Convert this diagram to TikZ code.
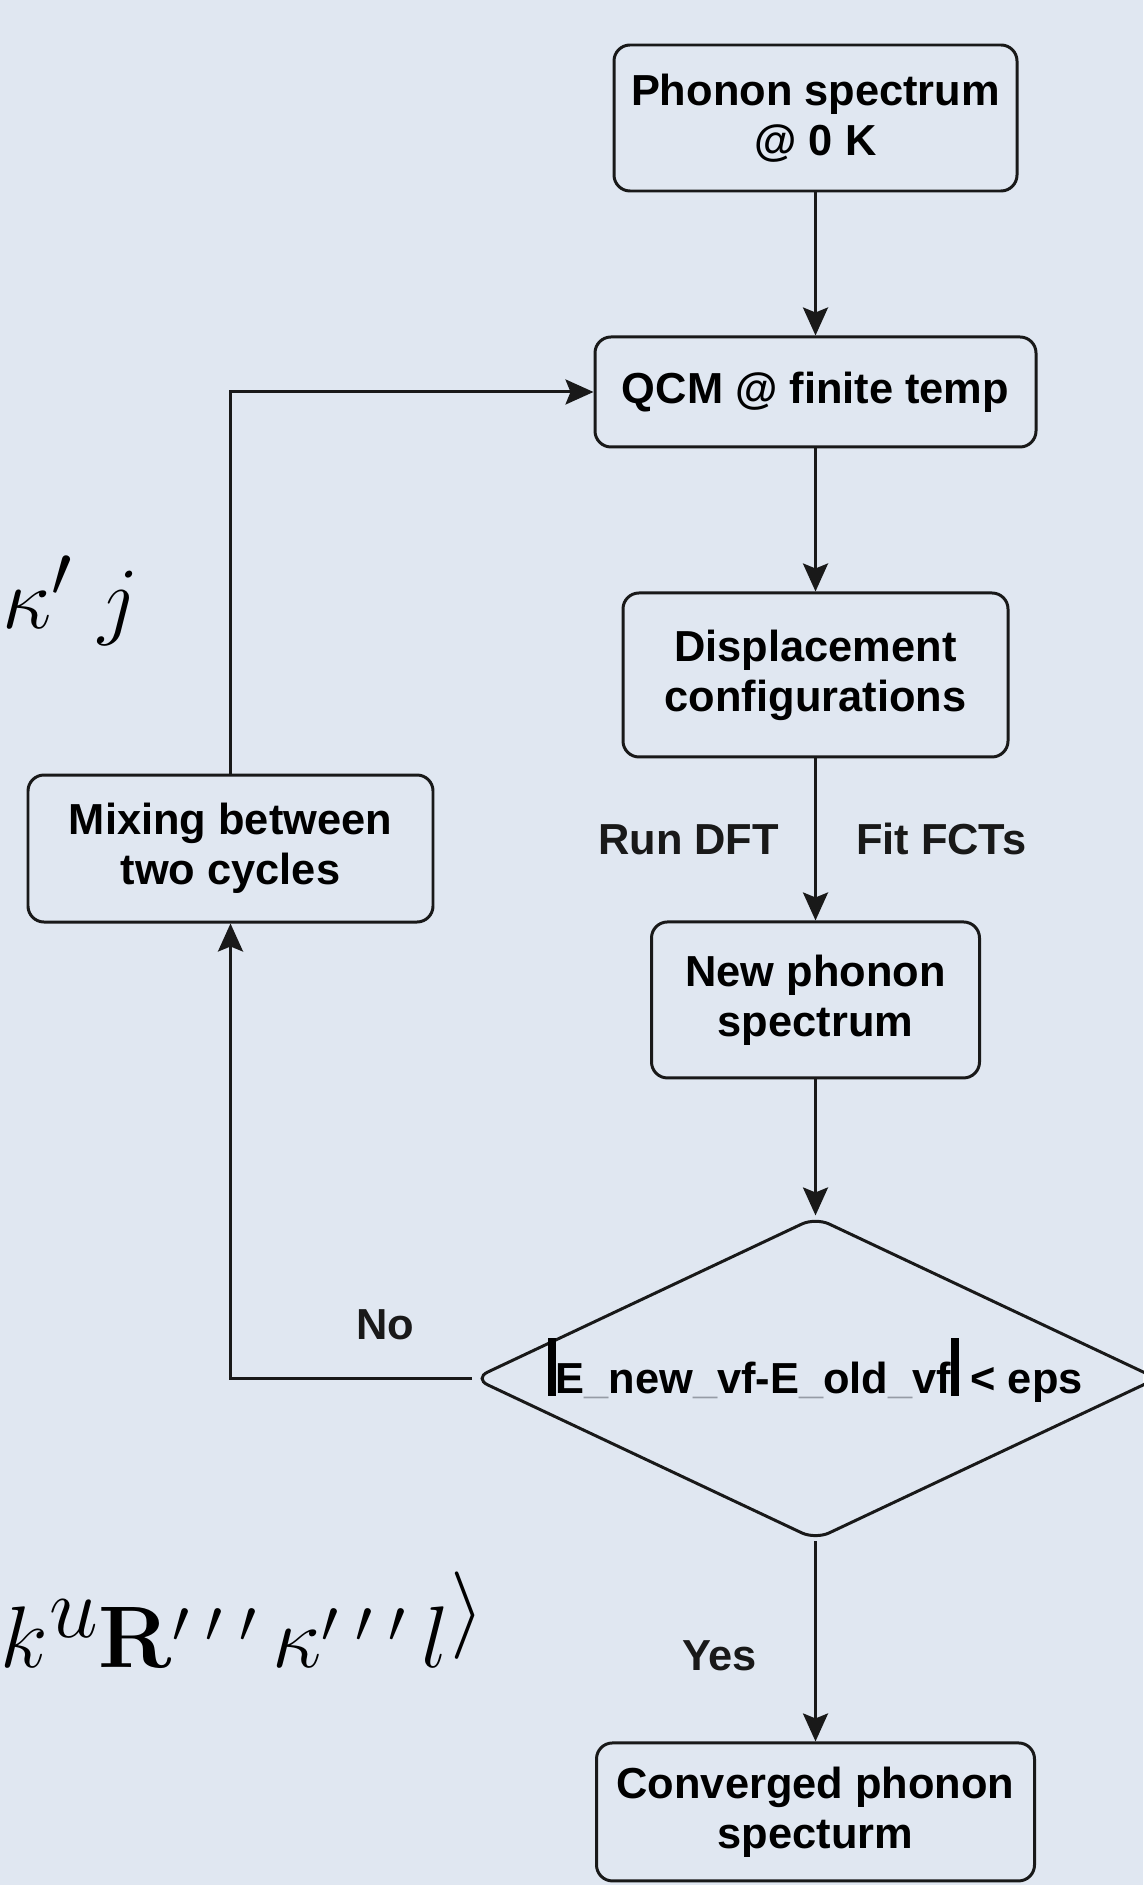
\documentclass[tikz,border=0pt]{standalone}
\usepackage[no-math]{fontspec}
\setmainfont{Liberation Sans}
\usepackage{tikz}
\usetikzlibrary{arrows.meta,shapes.geometric,positioning}
\usepackage{xcolor}
\definecolor{slidebg}{RGB}{224,231,241}
\definecolor{edgegray}{RGB}{25,25,25}
\definecolor{fadegray}{RGB}{150,156,166}
\tikzstyle{arrow} = [line width=0.85pt,-{Stealth[length=0.28cm,width=0.25cm,inset=0.05cm]},color=edgegray]
\tikzstyle{blocknode} = [rectangle, rounded corners=0.16cm, align=center, draw=edgegray, line width=0.85pt, inner sep=0pt]
\tikzstyle{decisionnode} = [diamond, aspect=2.12, rounded corners=0.15cm, draw=edgegray, line width=0.85pt, inner sep=0pt, text height=0.3cm, text depth=0pt, minimum width=6.84cm, minimum height=3.23cm]
\tikzstyle{steplabel} = [inner sep=0pt]
\tikzstyle{mathfrag} = [inner sep=0pt, font=\fontsize{29}{31}\selectfont]
\newcommand{\absbar}{\rule[-0.05em]{0.17em}{1.33em}}
\newcommand{\fadeus}{\textcolor{fadegray}{\_}}

\begin{document}
\begin{tikzpicture}[node distance=1.43cm, font=\fontsize{12.35}{14.2}\selectfont\bfseries]
\useasboundingbox (0,0) rectangle (11.43,-18.85);
\fill[slidebg] (0,0) rectangle (11.43,-18.85);

% equation pieces behind the chart
\node[mathfrag, anchor=base west] (kapj) at (0.02,-6.28) {$\kappa'\;j$};
\node[mathfrag, anchor=base west, font=\fontsize{34}{36}\selectfont] (ubra) at (0.0,-16.37) {${}_k u_{\mathbf{R}^{\prime\;\prime\;\prime}\,\kappa^{\prime\;\prime\;\prime}\,l}\rangle$};

\node[blocknode, minimum width=4.03cm, minimum height=1.46cm] (phonon) at (8.155,-1.18) {Phonon spectrum\\@ 0 K};
\node[blocknode, minimum width=4.41cm, minimum height=1.10cm, below=1.43cm of phonon] (qcm) {QCM @ finite temp};
\node[blocknode, minimum width=3.85cm, minimum height=1.64cm, below=1.43cm of qcm] (disp) {Displacement\\configurations};
\node[blocknode, minimum width=3.28cm, minimum height=1.56cm, below=1.62cm of disp] (newph) {New phonon\\spectrum};
\node[decisionnode, below=1.36cm of newph] (check) {\absbar E\fadeus new\fadeus vf-E\fadeus old\fadeus vf\absbar{} < eps};
\node[blocknode, minimum width=4.38cm, minimum height=1.38cm, below=2.0cm of check] (conv) {Converged phonon\\specturm};
\node[blocknode, minimum width=4.05cm, minimum height=1.47cm] (mix) at (2.305,-8.485) {Mixing between\\two cycles};

\draw[arrow] (phonon) -- (qcm);
\draw[arrow] (qcm) -- (disp);
\draw[arrow] (disp) -- node[steplabel, left=0.35cm] {Run DFT} node[steplabel, right=0.39cm] {Fit FCTs} (newph);
\draw[arrow] (newph) -- (check);
\draw[arrow] (check) -- node[steplabel, pos=0.57, left=0.57cm] {Yes} (conv);
\draw[arrow] (check.west) -- node[steplabel, pos=0.36, above=0.37cm] {No} (check.west -| mix.south) -- (mix.south);
\draw[arrow] (mix.north) |- (qcm.west);
\end{tikzpicture}
\end{document}
